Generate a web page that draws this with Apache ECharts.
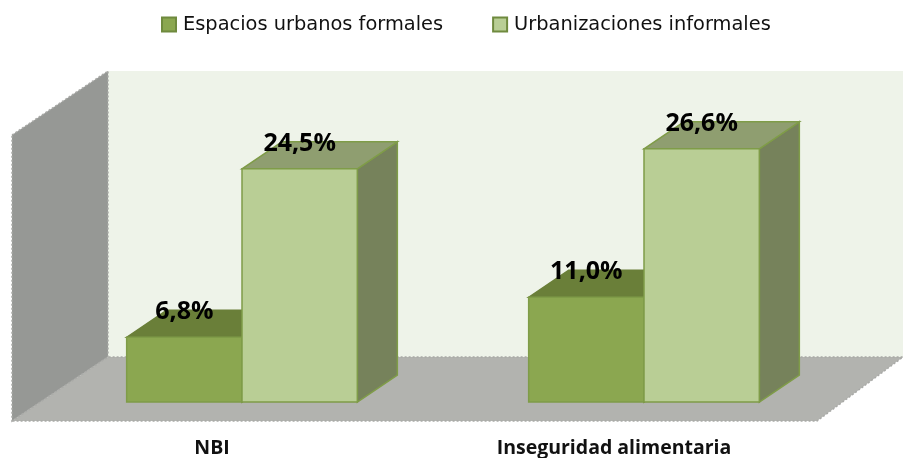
<!DOCTYPE html>
<html><head><meta charset="utf-8">
<style>html,body{margin:0;padding:0;background:#fff}#c{width:903px;height:458px}</style>
<script src="https://cdn.jsdelivr.net/npm/echarts@6/dist/echarts.min.js"></script>
</head><body><div id="c"></div>
<script>
const categories = ['NBI', 'Inseguridad alimentaria'];
const formalValues = [6.8, 11.0];
const informalValues = [24.5, 26.6];
const seriesNames = ['Espacios urbanos formales', 'Urbanizaciones informales'];
const valueLabels = [['6,8%', '11,0%'], ['24,5%', '26,6%']];

const FONT = '"Open Sans", sans-serif';
const depth = [40, -27];
const palette = [
  {front:'#8ba750', top:'#6a7f39', side:'#6a7f39', border:'#7f9c48', topBorder:'#6a7f39'},
  {front:'#b9ce95', top:'#8f9e70', side:'#76825b', border:'#7f9c48', topBorder:'#7f9c48'}
];

function barRender(seriesIdx, labels) {
  return function (params, api) {
    const cat = api.value(0), val = api.value(1);
    const base = api.coord([cat, 0]);
    const top = api.coord([cat, val]);
    const w = api.size([1, 0])[0] * 0.2869;
    const x0 = seriesIdx === 0 ? base[0] - w : base[0];
    const x1 = x0 + w;
    const dx = depth[0], dy = depth[1];
    const c = palette[seriesIdx];
    const edge = {stroke: c.topBorder, lineWidth: 1.5};
    return {type: 'group', children: [
      {type:'polygon', shape:{points:[[x1,top[1]],[x1+dx,top[1]+dy],[x1+dx,base[1]+dy],[x1,base[1]]]},
        style:{fill:c.side, ...edge}},
      {type:'polygon', shape:{points:[[x0,top[1]],[x0+dx,top[1]+dy],[x1+dx,top[1]+dy],[x1,top[1]]]},
        style:{fill:c.top, ...edge}},
      {type:'rect', shape:{x:x0, y:top[1], width:w, height:base[1]-top[1]},
        style:{fill:c.front, stroke:c.border, lineWidth:1.5}},
      {type:'text', style:{text:labels[params.dataIndex], x:(x0+x1)/2, y:top[1]-25,
        align:'center', verticalAlign:'middle', fill:'#000',
        font:'bold 25px ' + FONT}}
    ]};
  };
}

const chart = echarts.init(document.getElementById('c'), null, {renderer:'canvas'});
chart.setOption({
  animation:false,
  backgroundColor:'#fff',
  legend:{
    top:10, left:156, itemWidth:14, itemHeight:14, itemGap:49,
    icon:'rect', selectedMode:false,
    textStyle:{fontFamily:'"DejaVu Sans", sans-serif', fontSize:19.4, color:'#111', padding:[0,0,0,2]},
    data:[
      {name:seriesNames[0], itemStyle:{color:palette[0].front, borderColor:'#6f8a3e', borderWidth:2}},
      {name:seriesNames[1], itemStyle:{color:palette[1].front, borderColor:'#6f8a3e', borderWidth:2}}
    ]
  },
  grid:{left:41, width:804, top:116.4, bottom:56, outerBoundsMode:'none'},
  xAxis:{type:'category', data:categories,
    axisLine:{show:false}, axisTick:{show:false}, splitLine:{show:false},
    axisLabel:{fontFamily:FONT, fontWeight:'bold', fontSize:19.5, color:'#111', margin:36.5, padding:[0,60,0,0]}},
  yAxis:{type:'value', min:0, max:30, show:false},
  graphic:[
    {type:'polygon', z:0, shape:{points:[[108,71],[903,71],[903,357],[108,357]]}, style:{fill:'#eef3e9'}},
    {type:'polygon', z:0, shape:{points:[[12,135],[108,71],[108,357],[12,421]]},
      style:{fill:'#969895', stroke:'#a9aaa7', lineWidth:1.5, lineDash:[2,2]}},
    {type:'polygon', z:0, shape:{points:[[12,421],[108,357],[903,357],[817,421]]},
      style:{fill:'#b2b3af', stroke:'#a9aaa7', lineWidth:1.5, lineDash:[2,2]}}
  ],
  series:[
    {name:seriesNames[0], type:'custom', z:3, data:categories.map((c,i)=>[i, formalValues[i]]),
     encode:{x:0,y:1}, renderItem:barRender(0, valueLabels[0]), itemStyle:{color:palette[0].front}},
    {name:seriesNames[1], type:'custom', z:4, data:categories.map((c,i)=>[i, informalValues[i]]),
     encode:{x:0,y:1}, renderItem:barRender(1, valueLabels[1]), itemStyle:{color:palette[1].front}}
  ]
});
</script></body></html>
